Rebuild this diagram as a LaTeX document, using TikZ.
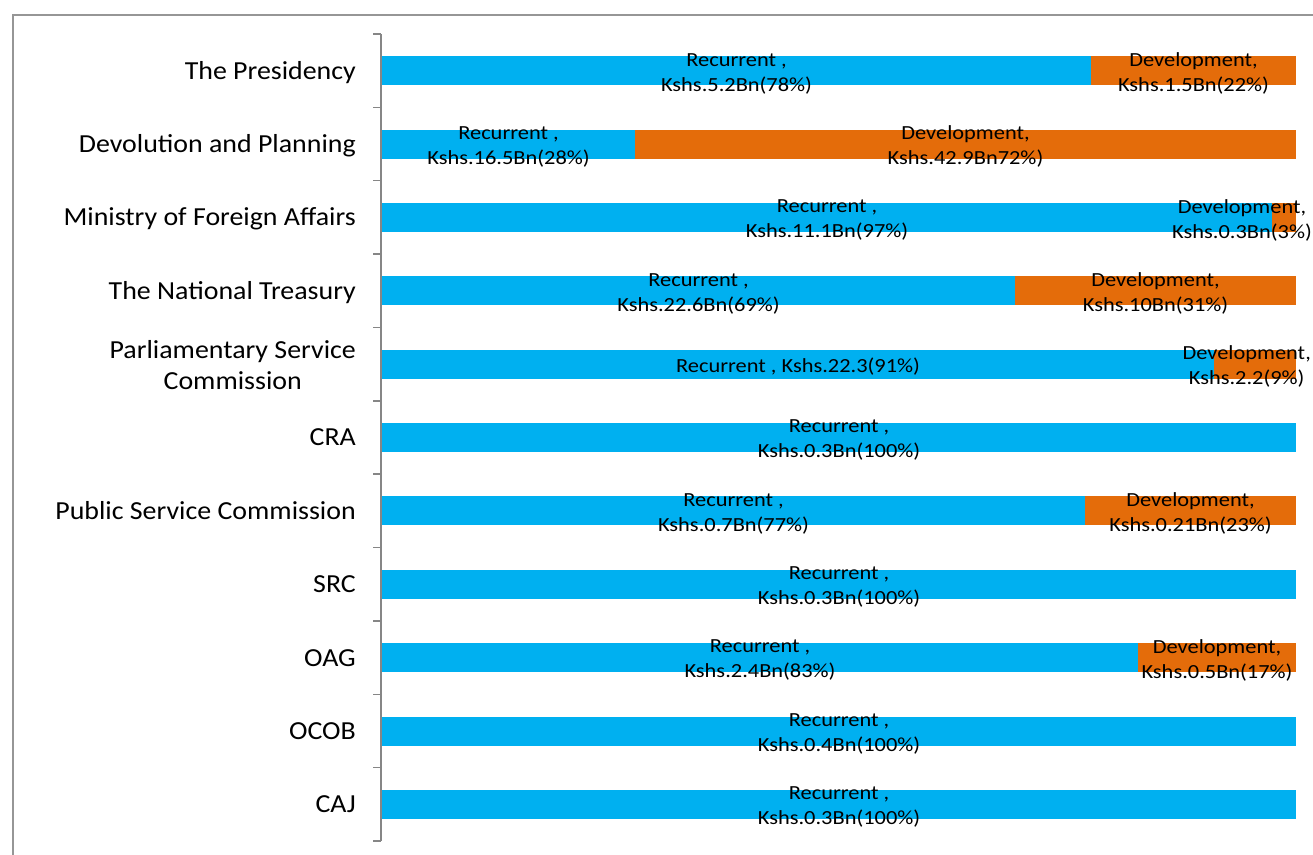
\documentclass[tikz,border=0pt]{standalone}
\usepackage{fontspec}
\setmainfont{Carlito}[FakeStretch=1.073]
\newfontfamily\valfont{Carlito}[FakeStretch=1.12]
\usetikzlibrary{positioning}
\definecolor{recblue}{RGB}{0,176,240}
\definecolor{devorange}{RGB}{228,108,10}
\definecolor{axisgray}{RGB}{134,134,134}
\definecolor{framegray}{RGB}{150,150,150}
\tikzset{
  catlabel/.style={anchor=base east, inner sep=0pt, align=center,
    font=\fontsize{26}{31}\selectfont},
  vallabel/.style={inner sep=0pt, align=center,
    font=\valfont\fontsize{20}{25}\selectfont},
  recbar/.style={fill=recblue},
  devbar/.style={fill=devorange},
}
\begin{document}
\begin{tikzpicture}[x=1pt, y=-1pt]
    \clip (0,0) rectangle (1313,854);
    \draw [framegray, line width=2] (13,15) rectangle (1340,880);

    % coordinates to be reused
    \coordinate (axtop) at (381,34);
    \coordinate (axbot) at (381,841);

    % draw figure
    \fill [recbar] (382,56.2) rectangle (1091,85.2);
    \fill [devbar] (1091,56.2) rectangle (1296,85.2);
    \fill [recbar] (382,129.5) rectangle (635,158.5);
    \fill [devbar] (635,129.5) rectangle (1296,158.5);
    \fill [recbar] (382,202.9) rectangle (1272,231.9);
    \fill [devbar] (1272,202.9) rectangle (1296,231.9);
    \fill [recbar] (382,276.3) rectangle (1015,305.3);
    \fill [devbar] (1015,276.3) rectangle (1296,305.3);
    \fill [recbar] (382,349.6) rectangle (1214,378.6);
    \fill [devbar] (1214,349.6) rectangle (1296,378.6);
    \fill [recbar] (382,423.0) rectangle (1296,452.0);
    \fill [recbar] (382,496.4) rectangle (1085,525.4);
    \fill [devbar] (1085,496.4) rectangle (1296,525.4);
    \fill [recbar] (382,569.7) rectangle (1296,598.7);
    \fill [recbar] (382,643.1) rectangle (1138,672.1);
    \fill [devbar] (1138,643.1) rectangle (1296,672.1);
    \fill [recbar] (382,716.5) rectangle (1296,745.5);
    \fill [recbar] (382,789.8) rectangle (1296,818.8);

    % axis with ticks
    \draw [axisgray, line width=1.5] (axtop) -- (axbot);
    \foreach \k in {0,...,11}
      \draw [axisgray, line width=1.5] (373,34+73.36*\k) -- (381,34+73.36*\k);

    % add labels
    \node [catlabel] (presidency) at (356,79.1) {The Presidency};
    \node [catlabel] (devolution) at (356,152.4) {Devolution and Planning};
    \node [catlabel] (foreign) at (356,225.8) {Ministry of Foreign Affairs};
    \node [catlabel] (treasury) at (356,299.2) {The National Treasury};
    \node [catlabel, anchor=east] (parliament) at (356,365.5) {Parliamentary Service\\Commission};
    \node [catlabel] (cra) at (356,445.9) {CRA};
    \node [catlabel] (psc) at (356,519.3) {Public Service Commission};
    \node [catlabel] (src) at (356,592.6) {SRC};
    \node [catlabel] (oag) at (356,666.0) {OAG};
    \node [catlabel] (ocob) at (356,739.4) {OCOB};
    \node [catlabel] (caj) at (356,812.7) {CAJ};

    \node [vallabel] (presrec) at (736.5,73.5) {Recurrent ,\\Kshs.5.2Bn(78\%)};
    \node [vallabel] (presdev) at (1193.5,73.5) {Development,\\Kshs.1.5Bn(22\%)};
    \node [vallabel] (devorec) at (508.5,146.8) {Recurrent ,\\Kshs.16.5Bn(28\%)};
    \node [vallabel] (devodev) at (965.5,146.8) {Development,\\Kshs.42.9Bn72\%)};
    \node [vallabel] (forrec) at (827,220.2) {Recurrent ,\\Kshs.11.1Bn(97\%)};
    \node [vallabel, anchor=east] (fordev) at (1312,220.2) {Development,\\Kshs.0.3Bn(3\%)};
    \node [vallabel] (treasrec) at (698.5,293.6) {Recurrent ,\\Kshs.22.6Bn(69\%)};
    \node [vallabel] (treasdev) at (1155.5,293.6) {Development,\\Kshs.10Bn(31\%)};
    \node [vallabel] (parlrec) at (798,366.1) {Recurrent , Kshs.22.3(91\%)};
    \node [vallabel, anchor=east] (parldev) at (1311,366.9) {Development,\\Kshs.2.2(9\%)};
    \node [vallabel] (crarec) at (839,440.3) {Recurrent ,\\Kshs.0.3Bn(100\%)};
    \node [vallabel] (pscrec) at (733.5,513.7) {Recurrent ,\\Kshs.0.7Bn(77\%)};
    \node [vallabel] (pscdev) at (1190.5,513.7) {Development,\\Kshs.0.21Bn(23\%)};
    \node [vallabel] (srcrec) at (839,587.0) {Recurrent ,\\Kshs.0.3Bn(100\%)};
    \node [vallabel] (oagrec) at (760,660.4) {Recurrent ,\\Kshs.2.4Bn(83\%)};
    \node [vallabel] (oagdev) at (1217,660.4) {Development,\\Kshs.0.5Bn(17\%)};
    \node [vallabel] (ocobrec) at (839,733.8) {Recurrent ,\\Kshs.0.4Bn(100\%)};
    \node [vallabel] (cajrec) at (839,807.1) {Recurrent ,\\Kshs.0.3Bn(100\%)};
\end{tikzpicture}
\end{document}
